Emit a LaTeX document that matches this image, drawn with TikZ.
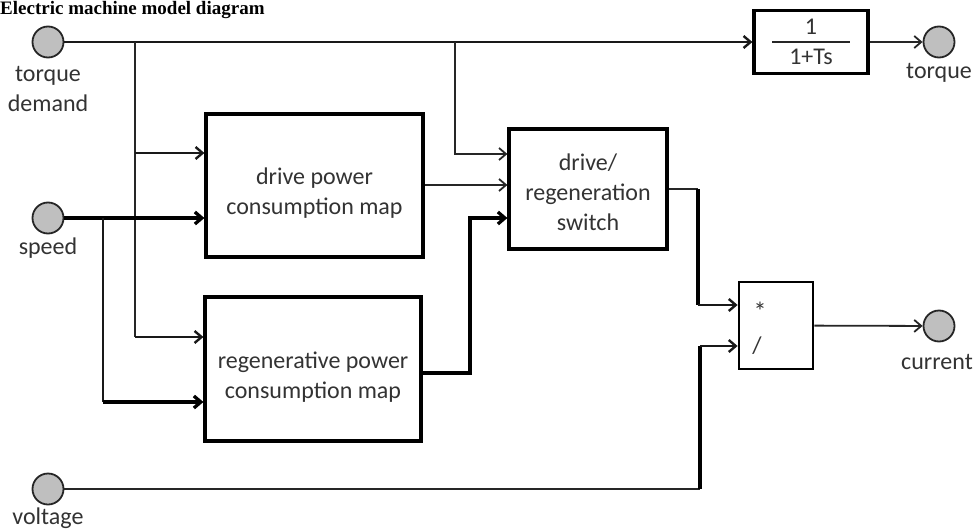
\documentclass[tikz,border=0pt]{standalone}
\usepackage{fontspec}
\setmainfont{Carlito}
\newfontfamily\titlefont{Liberation Serif}
\usetikzlibrary{arrows.meta}
\begin{document}
\begin{tikzpicture}[x=1pt,y=-1pt,
  lbl/.style={font=\fontsize{24}{30}\selectfont, text=black!80, align=center, inner sep=0pt},
  blk/.style={draw=black, line width=3.2pt, fill=white, inner sep=0pt},
  port/.style={circle, draw=black!85, line width=1.8pt, fill=black!25, minimum size=31pt, inner sep=0pt},
  thinw/.style={line width=1.8pt, draw=black!85},
  medw/.style={line width=2.4pt, draw=black!90},
  thickw/.style={line width=3.3pt, draw=black},
  arr/.style={-{Straight Barb[length=7pt,width=12pt]}},
]
\useasboundingbox[fill=white] (0,0) rectangle (979,532);

\node[anchor=base west, inner sep=0pt, font=\titlefont\bfseries\fontsize{19}{22}\selectfont] (title) at (0,14.5) {Electric machine model diagram};

% ports
\node[port] (td) at (48,42) {};
\node[port] (sp) at (48,218) {};
\node[port] (vo) at (48,489) {};
\node[port] (tq) at (939,42) {};
\node[port] (cu) at (939,326) {};
\node[lbl] (tdl) at (48,89) {torque\\demand};
\node[lbl] (spl) at (48,248) {speed};
\node[lbl] (vol) at (48,518) {voltage};
\node[lbl] (tql) at (939,73) {torque};
\node[lbl] (cul) at (937,362) {current};

% blocks
\node[blk, minimum width=114pt, minimum height=63pt] (tf) at (811,42) {};
\node[lbl] (tfn) at (811,27) {1};
\node[lbl] (tfd) at (811,57) {1+Ts};
\draw[line width=1.4pt, black!85] (772,42) -- (850,42);

\node[blk, minimum width=217pt, minimum height=143pt] (dm) at (314.5,185.5) {};
\node[lbl] (dmt) at (314.5,193) {drive power\\consumption map};
\node[blk, minimum width=216pt, minimum height=144pt] (rm) at (313,369) {};
\node[lbl] (rmt) at (313,377) {regenerative power\\consumption map};
\node[blk, minimum width=158pt, minimum height=120pt] (sw) at (588,189) {};
\node[lbl] (swt) at (588,192) {drive/\\regeneration\\switch};
\node[blk, line width=2.8pt, minimum width=74pt, minimum height=87pt] (md) at (776,325.5) {};
\node[lbl, font=\fontsize{26}{30}\selectfont] (mul) at (760,311) {*};
\node[lbl] (dvl) at (757,346) {/};

% helper coordinates
\coordinate (j1) at (135,42);
\coordinate (j2) at (455,42);
\coordinate (j3) at (103,218);
\coordinate (c1) at (470,373);
\coordinate (c2) at (698,189);
\coordinate (c3) at (700,489);
\coordinate (y153) at (0,153);
\coordinate (y154) at (0,154);
\coordinate (y185) at (0,185);
\coordinate (y218) at (0,218);
\coordinate (y305) at (0,305);
\coordinate (y337) at (0,337);
\coordinate (y346) at (0,346);
\coordinate (y402) at (0,402);

% connectors
\draw[medw,arr] (td) -- (tf.west);
\draw[thinw,arr] (tf) -- (tq);
\draw[thinw] (j1) -- (j1 |- y337);
\draw[medw,arr] (j1 |- y153) -- (dm.west |- y153);
\draw[medw,arr] (j1 |- y337) -- (rm.west |- y337);
\draw[thinw,arr] (j2) |- (sw.west |- y154);
\draw[thickw,arr] (sp) -- (dm.west |- sp);
\draw[medw] (j3) -- (j3 |- y402);
\draw[thickw,arr] (j3 |- y402) -- (rm.west |- y402);
\draw[thinw,arr] (dm.east |- y185) -- (sw.west |- y185);
\draw[thickw,arr] (rm.east |- c1) -- (c1) |- (sw.west |- y218);
\draw[thinw] (sw.east |- c2) -- (c2);
\draw[thickw] (c2) -- (c2 |- y305);
\draw[medw,arr] (c2 |- y305) -- (md.west |- y305);
\draw[thinw] (vo) -- (c3);
\draw[thickw] (c3) -- (c3 |- y346);
\draw[medw,arr] (c3 |- y346) -- (md.west |- y346);
\draw[thinw,arr] (md) -- (cu);
\end{tikzpicture}
\end{document}
